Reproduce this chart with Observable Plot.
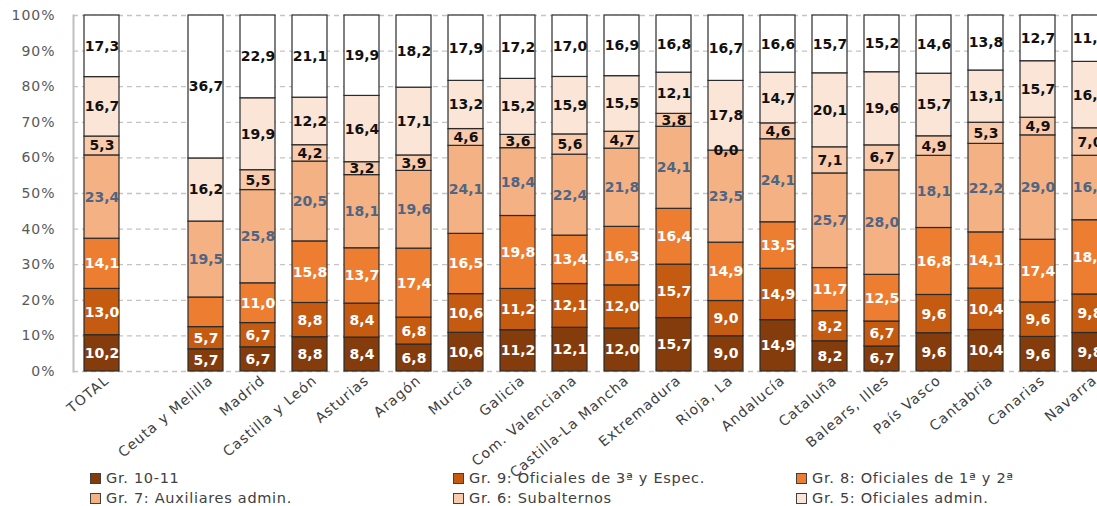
<!DOCTYPE html>
<html>
<head>
<meta charset="utf-8">
<script src="https://cdn.jsdelivr.net/npm/d3@7"></script>
<script src="https://cdn.jsdelivr.net/npm/@observablehq/plot@0.6"></script>
<style>
  body { margin: 0; background: #fff; font-family: "DejaVu Sans", sans-serif; }
  #wrap { position: relative; width: 1097px; height: 506px; overflow: hidden; }
  #chart svg { overflow: visible; }
  [aria-label="y-axis tick label"] text { letter-spacing: 1px; }
  [aria-label="x-axis tick label"] text { letter-spacing: 1px; }
  .legend { position: absolute; left: 0; top: 0; width: 1097px; height: 506px; pointer-events: none; }
  .item { position: absolute; display: flex; align-items: center; white-space: nowrap;
          font-size: 14.5px; color: #404040; letter-spacing: 0.7px; }
  .sw { width: 11px; height: 11px; border: 1px solid #404040; margin-right: 5px; box-sizing: border-box; }
</style>
</head>
<body>
<div id="wrap">
  <div id="chart"></div>
  <div class="legend" id="legend"></div>
</div>
<script>
// ---- data ----
const categories = ["TOTAL", " ", "Ceuta y Melilla", "Madrid", "Castilla y León", "Asturias", "Aragón", "Murcia", "Galicia", "Com. Valenciana", "Castilla-La Mancha", "Extremadura", "Rioja, La", "Andalucía", "Cataluña", "Balears, Illes", "País Vasco", "Cantabria", "Canarias", "Navarra"];
const gr10_11 = [10.2, null, 5.7, 6.7, 8.8, 8.4, 6.8, 10.6, 11.2, 12.1, 12.0, 15.7, 9.0, 14.9, 8.2, 6.7, 9.6, 10.4, 9.6, 9.8];
const gr9     = [13.0, null, 5.7, 6.7, 8.8, 8.4, 6.8, 10.6, 11.2, 12.1, 12.0, 15.7, 9.0, 14.9, 8.2, 6.7, 9.6, 10.4, 9.6, 9.8];
const gr8     = [14.1, null, 7.6, 11.0, 15.8, 13.7, 17.4, 16.5, 19.8, 13.4, 16.3, 16.4, 14.9, 13.5, 11.7, 12.5, 16.8, 14.1, 17.4, 18.9];
const gr7     = [23.4, null, 19.5, 25.8, 20.5, 18.1, 19.6, 24.1, 18.4, 22.4, 21.8, 24.1, 23.5, 24.1, 25.7, 28.0, 18.1, 22.2, 29.0, 16.4];
const gr6     = [5.3, null, null, 5.5, 4.2, 3.2, 3.9, 4.6, 3.6, 5.6, 4.7, 3.8, 0.0, 4.6, 7.1, 6.7, 4.9, 5.3, 4.9, 7.0];
const gr5     = [16.7, null, 16.2, 19.9, 12.2, 16.4, 17.1, 13.2, 15.2, 15.9, 15.5, 12.1, 17.8, 14.7, 20.1, 19.6, 15.7, 13.1, 15.7, 16.9];
const resto   = [17.3, null, 36.7, 22.9, 21.1, 19.9, 18.2, 17.9, 17.2, 17.0, 16.9, 16.8, 16.7, 16.6, 15.7, 15.2, 14.6, 13.8, 12.7, 11.8];

const groups = ["Gr. 10-11", "Gr. 9: Oficiales de 3ª y Espec.", "Gr. 8: Oficiales de 1ª y 2ª",
                "Gr. 7: Auxiliares admin.", "Gr. 6: Subalternos", "Gr. 5: Oficiales admin.", "Resto"];
const colors = ["#843C0C", "#C55A11", "#ED7D31", "#F4B183", "#F8CBAD", "#FBE5D6", "#FFFFFF"];
const series = [gr10_11, gr9, gr8, gr7, gr6, gr5, resto];
// labels not printed in the original
const hiddenLabels = [["Ceuta y Melilla", "Gr. 8: Oficiales de 1ª y 2ª"]];
const yTicks = [0, 0.1, 0.2, 0.3, 0.4, 0.5, 0.6, 0.7, 0.8, 0.9, 1.0];

// ---- table ----
const rows = [];
categories.forEach((cat, i) => {
  groups.forEach((g, j) => {
    const v = series[j][i];
    if (v != null) rows.push({cat, group: g, value: v});
  });
});
const isHidden = d => hiddenLabels.some(([c, g]) => c === d.cat && g === d.group);
const fmt = v => v.toFixed(1).replace(".", ",");

const labelMark = (groupSet, color) =>
  Plot.text(rows, Plot.stackY({
    x: "cat", y: "value", z: "group", order: groups, offset: "normalize",
    text: d => (groupSet.includes(d.group) && !isHidden(d)) ? fmt(d.value) : null,
    fill: color, fontWeight: "bold", fontSize: 14, fontFamily: "DejaVu Sans"
  }));

const chart = Plot.plot({
  width: 1097,
  height: 462,
  marginTop: 15,
  marginBottom: 91,
  marginLeft: 73,
  marginRight: 0,
  style: {fontFamily: "DejaVu Sans", fontSize: "13px", color: "#595959", background: "#fff", overflow: "visible"},
  x: {domain: categories, range: [64.8, 1125.2], padding: 0.33, label: null},
  y: {domain: [0, 1], label: null},
  color: {domain: groups, range: colors},
  marks: [
    Plot.gridY(yTicks, {stroke: "#c4c4c4", strokeOpacity: 1, strokeDasharray: "5,4", strokeWidth: 1.3}),
    Plot.frame({anchor: "left", stroke: "#bfbfbf", strokeWidth: 2}),
    Plot.axisY(yTicks, {tickFormat: d3.format(".0%"), tickSize: 0, tickPadding: 18, fontSize: 14, fill: "#595959", label: null}),
    Plot.axisX({tickRotate: -40, tickSize: 0, tickPadding: 7, dx: 5, fontSize: 14, fill: "#404040", label: null}),
    Plot.barY(rows, Plot.stackY({
      x: "cat", y: "value", z: "group", order: groups, offset: "normalize",
      fill: "group", stroke: "#2b2b2b", strokeWidth: 1.2
    })),
    labelMark(groups.slice(0, 3), "#ffffff"),
    labelMark(groups.slice(3, 4), "#4f6584"),
    labelMark(groups.slice(4), "#111111")
  ]
});
document.getElementById("chart").appendChild(chart);

// ---- legend (below the SVG) ----
const legend = document.getElementById("legend");
const legendPos = [
  [90, 470], [453, 470], [796, 470],
  [90, 490], [453, 490], [796, 490]
];
groups.slice(0, 6).forEach((g, j) => {
  const el = document.createElement("div");
  el.className = "item";
  el.style.left = legendPos[j][0] + "px";
  el.style.top = legendPos[j][1] + "px";
  const sw = document.createElement("span");
  sw.className = "sw";
  sw.style.background = colors[j];
  const tx = document.createElement("span");
  tx.textContent = g;
  el.appendChild(sw);
  el.appendChild(tx);
  legend.appendChild(el);
});
</script>
</body>
</html>
